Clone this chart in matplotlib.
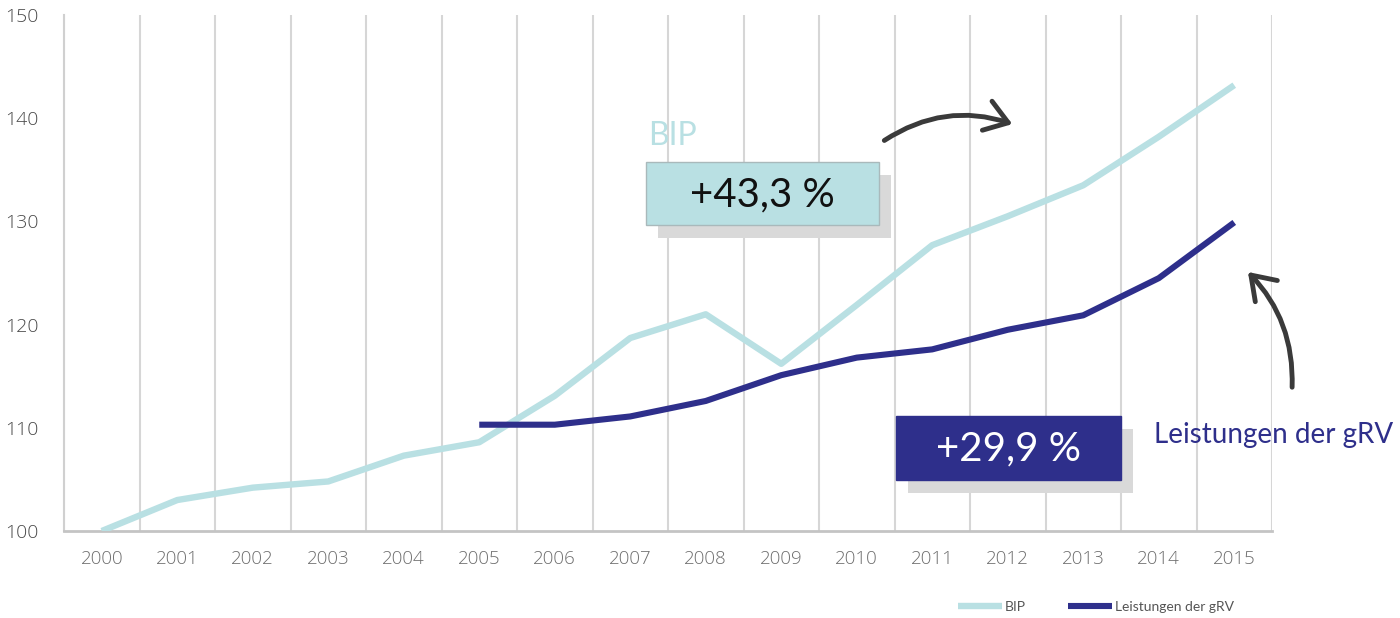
import numpy as np
import matplotlib.pyplot as plt
from matplotlib.patches import Rectangle, FancyArrowPatch

# Index 2000 = 100
years = ["2000", "2001", "2002", "2003", "2004", "2005", "2006", "2007",
         "2008", "2009", "2010", "2011", "2012", "2013", "2014", "2015"]
bip = [100.0, 103.0, 104.2, 104.8, 107.3, 108.6, 113.1, 118.7,
       121.0, 116.2, 121.9, 127.7, 130.5, 133.5, 138.2, 143.2]
grv_years = years[5:]
grv = [110.3, 110.3, 111.1, 112.6, 115.1, 116.8, 117.6, 119.5, 120.9, 124.5, 129.9]

bip_label = "BIP"
grv_label = "Leistungen der gRV"
bip_change = "+43,3 %"
grv_change = "+29,9 %"

c_bip = "#b9e0e3"
c_grv = "#2e2f8b"
c_arrow = "#3a3a3a"
narrow = ["Lato", "DejaVu Sans"]

W, H = 1400, 618
fig = plt.figure(figsize=(14, 6.18), dpi=100)
ax = fig.add_axes([64 / W, 1 - 531 / H, (1272 - 64) / W, (531 - 15) / H])

x = np.arange(len(years))
xg = np.arange(len(grv_years)) + years.index(grv_years[0])
ax.plot(x, bip, color=c_bip, lw=4.6, label=bip_label, solid_capstyle="butt", zorder=3)
ax.plot(xg, grv, color=c_grv, lw=4.4, label=grv_label, solid_capstyle="butt", zorder=4)

ax.set_xlim(-0.5, len(years) - 0.5)
ax.set_ylim(100, 150)
ax.set_xticks(x)
ax.set_xticklabels(years)
ax.set_xticks(np.arange(-0.5, len(years), 1), minor=True)
ax.set_yticks([100, 110, 120, 130, 140, 150])
ax.grid(which="minor", axis="x", color="#d6d6d6", lw=1.5)
ax.tick_params(which="both", length=0)
ax.tick_params(axis="x", pad=14, labelsize=13.5, labelcolor="#6e6e6e")
ax.tick_params(axis="y", pad=18, labelsize=14, labelcolor="#4a4a4a")
for lab in ax.get_xticklabels() + ax.get_yticklabels():
    lab.set_family("Open Sans")
    lab.set_fontweight("light")
for s in ["top", "right"]:
    ax.spines[s].set_visible(False)
ax.spines["left"].set_color("#d0d0d0")
ax.spines["left"].set_linewidth(1.5)
ax.spines["bottom"].set_color("#c4c4c4")
ax.spines["bottom"].set_linewidth(2)


def fx(px):
    return px / W


def fy(py):
    return 1 - py / H


def box(x0, y0, x1, y1, face, edge, text, tcolor):
    # shadow
    fig.add_artist(Rectangle((fx(x0 + 12), fy(y1 + 13)), (x1 - x0) / W, (y1 - y0) / H,
                             transform=fig.transFigure, facecolor="#d9d9d9",
                             edgecolor="none", zorder=5))
    fig.add_artist(Rectangle((fx(x0), fy(y1)), (x1 - x0) / W, (y1 - y0) / H,
                             transform=fig.transFigure, facecolor=face,
                             edgecolor=edge, lw=1, zorder=6))
    fig.text(fx((x0 + x1) / 2), fy((y0 + y1) / 2 + 1), text, ha="center", va="center",
             fontsize=29, color=tcolor, family=narrow, zorder=7)


box(646, 162, 879, 225, c_bip, "#a9b9bb", bip_change, "#111111")
box(896, 416, 1121, 480, c_grv, c_grv, grv_change, "white")

fig.text(fx(648), fy(145), bip_label, fontsize=23, color=c_bip, family=narrow,
         ha="left", va="baseline")
fig.text(fx(1393), fy(443), grv_label, fontsize=20, color=c_grv, family=narrow,
         ha="right", va="baseline")

arr_kw = dict(arrowstyle="->,head_length=0.8,head_width=0.55", color=c_arrow,
              lw=3.5, transform=fig.transFigure, zorder=8, mutation_scale=20)
fig.add_artist(FancyArrowPatch((fx(882), fy(142)), (fx(1015), fy(125)),
                               connectionstyle="arc3,rad=-0.25", **arr_kw))
fig.add_artist(FancyArrowPatch((fx(1292), fy(390)), (fx(1246), fy(270)),
                               connectionstyle="arc3,rad=0.22", **arr_kw))

leg = fig.legend(loc="center", bbox_to_anchor=(fx(1096), fy(607)), ncol=2,
                 frameon=False, fontsize=10, handlelength=3.2, columnspacing=3,
                 handletextpad=0.2)
for t in leg.get_texts():
    t.set_color("#555555")
    t.set_family(narrow)

fig.savefig("out.png", dpi=100)
